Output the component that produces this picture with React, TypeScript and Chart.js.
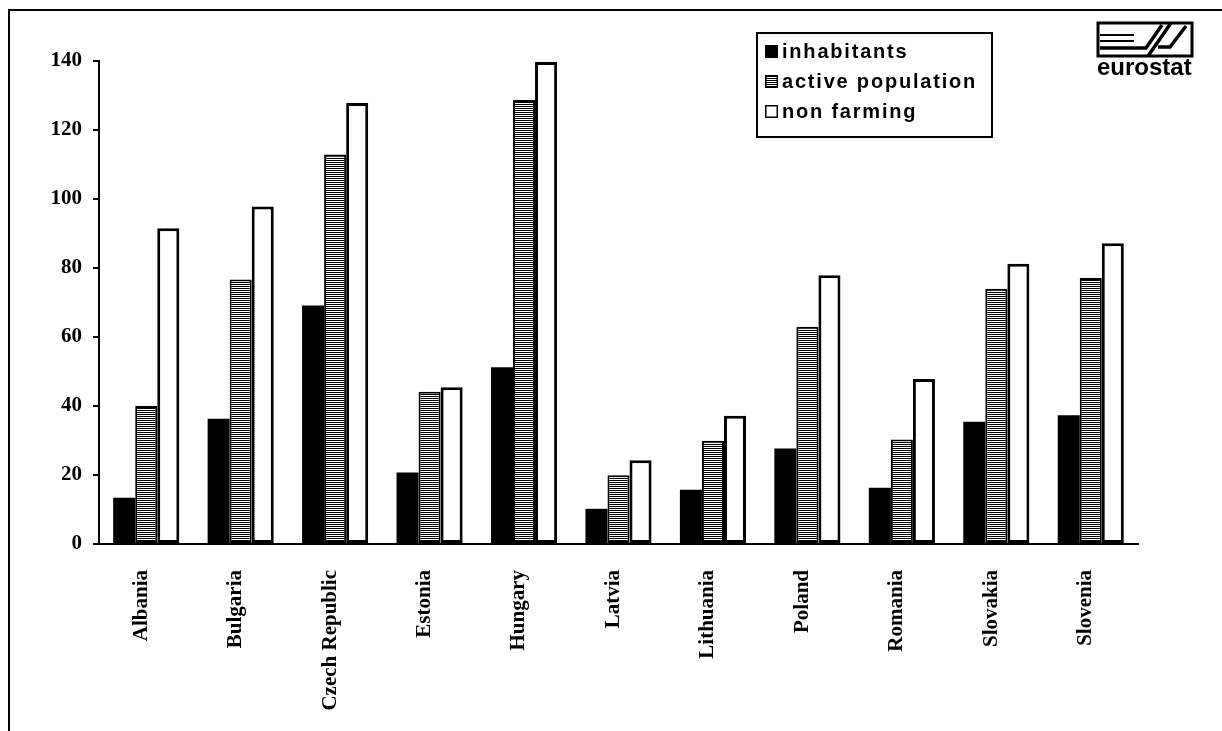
import React, { useEffect, useRef } from "react";
import { Chart, registerables } from "chart.js";

Chart.register(...registerables);

const W = 1222;
const H = 731;

const countries = [
  "Albania",
  "Bulgaria",
  "Czech Republic",
  "Estonia",
  "Hungary",
  "Latvia",
  "Lithuania",
  "Poland",
  "Romania",
  "Slovakia",
  "Slovenia",
];

const inhabitants = [13.4, 36.3, 69.1, 20.7, 51.2, 10.2, 15.7, 27.7, 16.3, 35.4, 37.3];
const activePopulation = [40.0, 76.7, 112.9, 44.1, 128.7, 19.9, 29.9, 63.0, 30.3, 74.0, 77.1];
const nonFarming = [91.5, 97.8, 127.8, 45.4, 139.7, 24.3, 37.2, 77.9, 47.8, 81.2, 87.2];

const seriesNames = ["inhabitants", "active population", "non farming"];

const yMin = 0;
const yMax = 140;
const yStep = 20;

const serif = "'Liberation Serif', 'Times New Roman', serif";
const sans = "'Liberation Sans', Arial, sans-serif";

// Frame, boxed legend and the eurostat mark, painted around the bars.
const decorPlugin = {
  id: "decor",
  beforeDraw(chart: any) {
    const ctx = chart.ctx as CanvasRenderingContext2D;
    ctx.save();
    ctx.fillStyle = "#fff";
    ctx.fillRect(0, 0, chart.width, chart.height);
    ctx.restore();
  },
  afterDraw(chart: any) {
    const ctx = chart.ctx as CanvasRenderingContext2D;
    ctx.save();
    ctx.strokeStyle = "#000";
    ctx.fillStyle = "#000";

    // page frame (left and top edges)
    ctx.lineWidth = 2;
    ctx.beginPath();
    ctx.moveTo(9, H);
    ctx.lineTo(9, 10);
    ctx.lineTo(W, 10);
    ctx.stroke();

    // legend box
    const lx = 757;
    const ly = 33;
    const lw = 235;
    const lh = 104;
    ctx.lineWidth = 2;
    ctx.strokeRect(lx, ly, lw, lh);

    const baselines = [58, 88, 118];
    ctx.font = `bold 20px ${sans}`;
    (ctx as any).letterSpacing = "1.8px";
    ctx.textBaseline = "alphabetic";
    ctx.textAlign = "left";
    chart.data.datasets.forEach((ds: any, i: number) => {
      const by = baselines[i];
      const mx = 765;
      const my = by - 13;
      ctx.fillStyle = ds.backgroundColor;
      ctx.fillRect(mx, my, 13, 13);
      if (ds.borderWidth) {
        ctx.lineWidth = 1.5;
        ctx.strokeStyle = "#000";
        ctx.strokeRect(mx + 0.75, my + 0.75, 11.5, 11.5);
      }
      ctx.fillStyle = "#000";
      ctx.fillText(ds.label, 782, by);
    });
    (ctx as any).letterSpacing = "0px";

    // eurostat mark
    const bx = 1098;
    const by = 23;
    const bw = 94;
    const bh = 33;
    ctx.strokeStyle = "#000";
    ctx.lineWidth = 3;
    ctx.strokeRect(bx, by, bw, bh);
    ctx.lineWidth = 2;
    ctx.beginPath();
    ctx.moveTo(bx + 2, 35);
    ctx.lineTo(bx + 36, 35);
    ctx.moveTo(bx + 2, 41);
    ctx.lineTo(bx + 36, 41);
    ctx.stroke();
    ctx.lineWidth = 3.5;
    ctx.beginPath();
    ctx.moveTo(bx + 2, 48);
    ctx.lineTo(bx + 48, 48);
    ctx.lineTo(bx + 64, 25);
    ctx.moveTo(bx + 50, by + bh);
    ctx.lineTo(bx + 73, by);
    ctx.moveTo(bx + 60, 47);
    ctx.lineTo(bx + 72, 47);
    ctx.lineTo(bx + 88, 26);
    ctx.stroke();

    ctx.fillStyle = "#000";
    ctx.font = `bold 24px ${sans}`;
    ctx.textAlign = "left";
    ctx.textBaseline = "alphabetic";
    ctx.fillText("eurostat", 1097, 75, 98);

    ctx.restore();
  },
};

export default function App() {
  const canvasRef = useRef<HTMLCanvasElement | null>(null);

  useEffect(() => {
    const canvas = canvasRef.current;
    if (!canvas) return;
    const ctx = canvas.getContext("2d")!;

    // horizontal line fill for the active population bars
    const tile = document.createElement("canvas");
    tile.width = 4;
    tile.height = 2;
    const tctx = tile.getContext("2d")!;
    tctx.fillStyle = "#fff";
    tctx.fillRect(0, 0, 4, 2);
    tctx.fillStyle = "#000";
    tctx.fillRect(0, 0, 4, 1);
    const hatch = ctx.createPattern(tile, "repeat")!;

    const chart = new Chart(canvas, {
      type: "bar",
      data: {
        labels: countries,
        datasets: [
          {
            label: seriesNames[0],
            data: inhabitants,
            backgroundColor: "#000",
            borderColor: "#000",
            borderWidth: 0,
          },
          {
            label: seriesNames[1],
            data: activePopulation,
            backgroundColor: hatch as any,
            borderColor: "#000",
            borderWidth: 2,
            borderSkipped: false,
          },
          {
            label: seriesNames[2],
            data: nonFarming,
            backgroundColor: "#fff",
            borderColor: "#000",
            borderWidth: 3,
            borderSkipped: false,
          },
        ],
      },
      options: {
        responsive: false,
        animation: false,
        layout: { padding: { left: 8, top: 61, right: 84, bottom: 0 } },
        plugins: {
          legend: { display: false },
          tooltip: { enabled: false },
        },
        datasets: {
          bar: { categoryPercentage: 0.7, barPercentage: 1.0 },
        },
        scales: {
          x: {
            grid: { display: false },
            border: { display: true, color: "#000", width: 2 },
            ticks: {
              color: "#000",
              autoSkip: false,
              minRotation: 90,
              maxRotation: 90,
              padding: 18,
              labelOffset: -5,
              font: { family: serif, size: 21, weight: "bold" },
            },
            afterFit: (s: any) => {
              s.height = 187;
            },
          },
          y: {
            min: yMin,
            max: yMax,
            ticks: {
              stepSize: yStep,
              color: "#000",
              padding: 11,
              font: { family: serif, size: 21, weight: "bold" },
            },
            grid: {
              drawOnChartArea: false,
              drawTicks: true,
              tickLength: 6,
              color: "#000",
              lineWidth: 2,
            },
            border: { display: true, color: "#000", width: 2 },
            afterFit: (s: any) => {
              s.width = 91;
            },
          },
        },
      } as any,
      plugins: [decorPlugin],
    });

    return () => {
      chart.destroy();
    };
  }, []);

  return (
    <div style={{ position: "fixed", left: 0, top: 0, width: W, height: H, background: "#fff" }}>
      <canvas ref={canvasRef} width={W} height={H} style={{ display: "block", width: W, height: H }} />
    </div>
  );
}
